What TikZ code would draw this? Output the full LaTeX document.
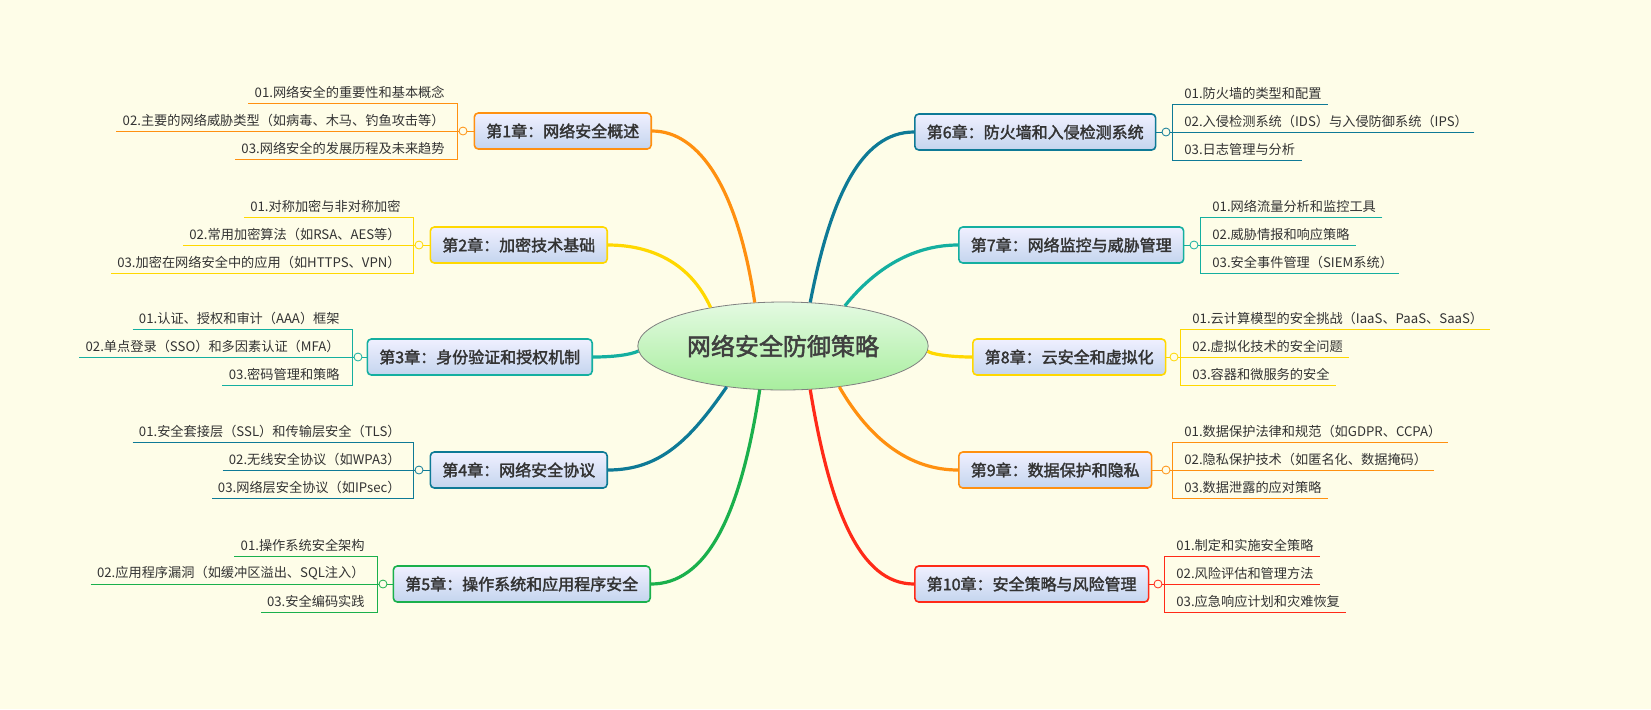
\documentclass[tikz,border=0pt]{standalone}
\usepackage{fontspec}
\setmainfont{Noto Sans CJK SC}[AutoFakeBold=2]
\usetikzlibrary{shapes.geometric}
\definecolor{bg}{HTML}{FEFDE8}
\definecolor{cOrange}{HTML}{FF9010}
\definecolor{cYellow}{HTML}{FFD800}
\definecolor{cTeal}{HTML}{14AFA0}
\definecolor{cBlue}{HTML}{0E7A96}
\definecolor{cGreen}{HTML}{1AB04C}
\definecolor{cRed}{HTML}{FF2A18}
\tikzset{
  chap/.style={draw=#1,thick,rounded corners=2pt,top color=blue!6,bottom color={rgb,255:red,196;green,213;blue,238},
    font=\bfseries\fontsize{8}{9}\selectfont,text=black!80,inner xsep=6pt,minimum height=18pt},
  item/.style={font=\fontsize{6.6}{8}\selectfont,text=black!80,inner xsep=3pt,inner ysep=2pt},
  knob/.style={circle,draw=#1,fill=bg,inner sep=0pt,minimum size=4pt},
  branch/.style={line width=1.6pt,#1}
}
\begin{document}
\begin{tikzpicture}[x=0.5pt,y=-0.5pt]
\fill[bg] (0,0) rectangle (1651,709);
\useasboundingbox (0,0) rectangle (1651,709);
\node[ellipse,draw=gray,minimum width=130pt,minimum height=44pt,top color={rgb,255:red,228;green,250;blue,226},bottom color={rgb,255:red,168;green,238;blue,158},
  font=\bfseries\fontsize{12}{14}\selectfont,text=black!75] (root) at (783,346) {网络安全防御策略};
% left chapters
\node[chap=cOrange,anchor=east] (ch1) at (652,131) {第1章：网络安全概述};
\node[chap=cYellow,anchor=east] (ch2) at (608,245) {第2章：加密技术基础};
\node[chap=cTeal,anchor=east] (ch3) at (593,357) {第3章：身份验证和授权机制};
\node[chap=cBlue,anchor=east] (ch4) at (608,470) {第4章：网络安全协议};
\node[chap=cGreen,anchor=east] (ch5) at (651,584) {第5章：操作系统和应用程序安全};
% right chapters
\node[chap=cBlue,anchor=west] (ch6) at (914,132) {第6章：防火墙和入侵检测系统};
\node[chap=cTeal,anchor=west] (ch7) at (958,245) {第7章：网络监控与威胁管理};
\node[chap=cYellow,anchor=west] (ch8) at (972,357) {第8章：云安全和虚拟化};
\node[chap=cOrange,anchor=west] (ch9) at (958,470) {第9章：数据保护和隐私};
\node[chap=cRed,anchor=west] (ch10) at (914,584) {第10章：安全策略与风险管理};
% branches
\draw[branch=cOrange] (root.123) .. controls (738,190) and (700,131) .. (ch1.east);
\draw[branch=cYellow] (root.152) .. controls (690,262) and (650,245) .. (ch2.east);
\draw[branch=cTeal] (root.182) .. controls (630,355) and (612,357) .. (ch3.east);
\draw[branch=cBlue] (root.216) .. controls (690,440) and (660,470) .. (ch4.east);
\draw[branch=cGreen] (root.242) .. controls (740,520) and (705,584) .. (ch5.east);
\draw[branch=cBlue] (root.58) .. controls (830,200) and (860,132) .. (ch6.west);
\draw[branch=cTeal] (root.33) .. controls (880,262) and (920,245) .. (ch7.west);
\draw[branch=cYellow] (root.358) .. controls (930,354) and (950,357) .. (ch8.west);
\draw[branch=cOrange] (root.324) .. controls (870,440) and (910,470) .. (ch9.west);
\draw[branch=cRed] (root.302) .. controls (830,510) and (860,584) .. (ch10.west);
% left sub-items: chapter/bracket x/colour/texts
\foreach \c/\bx/\cy/\col/\ta/\tb/\tc in {
  1/457/131/cOrange/01.网络安全的重要性和基本概念/02.主要的网络威胁类型（如病毒、木马、钓鱼攻击等）/03.网络安全的发展历程及未来趋势,
  2/413/245/cYellow/01.对称加密与非对称加密/02.常用加密算法（如RSA、AES等）/03.加密在网络安全中的应用（如HTTPS、VPN）,
  3/352/357/cTeal/01.认证、授权和审计（AAA）框架/02.单点登录（SSO）和多因素认证（MFA）/03.密码管理和策略,
  4/413/470/cBlue/01.安全套接层（SSL）和传输层安全（TLS）/02.无线安全协议（如WPA3）/03.网络层安全协议（如IPsec）,
  5/377/584/cGreen/01.操作系统安全架构/02.应用程序漏洞（如缓冲区溢出、SQL注入）/03.安全编码实践}{
  \coordinate (br\c) at (\bx,\cy);
  \node[item,anchor=south east] (i\c a) at (\bx-6,\cy-28) {\ta};
  \node[item,anchor=south east] (i\c b) at (\bx-6,\cy) {\tb};
  \node[item,anchor=south east] (i\c c) at (\bx-6,\cy+28) {\tc};
  \node[knob=\col] (k\c) at (\bx+6,\cy) {};
  \draw[\col,thin] (i\c a.south west) -- (i\c a.south west -| br\c) -- (i\c c.south west -| br\c) -- (i\c c.south west);
  \draw[\col,thin] (i\c b.south west) -- (k\c.west) (k\c.east) -- (ch\c.west);
}
% right sub-items
\foreach \c/\bx/\cy/\col/\ta/\tb/\tc in {
  6/1172/132/cBlue/01.防火墙的类型和配置/02.入侵检测系统（IDS）与入侵防御系统（IPS）/03.日志管理与分析,
  7/1200/245/cTeal/01.网络流量分析和监控工具/02.威胁情报和响应策略/03.安全事件管理（SIEM系统）,
  8/1180/357/cYellow/01.云计算模型的安全挑战（IaaS、PaaS、SaaS）/02.虚拟化技术的安全问题/03.容器和微服务的安全,
  9/1172/470/cOrange/01.数据保护法律和规范（如GDPR、CCPA）/02.隐私保护技术（如匿名化、数据掩码）/03.数据泄露的应对策略,
  10/1164/584/cRed/01.制定和实施安全策略/02.风险评估和管理方法/03.应急响应计划和灾难恢复}{
  \coordinate (br\c) at (\bx,\cy);
  \node[item,anchor=south west] (i\c a) at (\bx+6,\cy-28) {\ta};
  \node[item,anchor=south west] (i\c b) at (\bx+6,\cy) {\tb};
  \node[item,anchor=south west] (i\c c) at (\bx+6,\cy+28) {\tc};
  \node[knob=\col] (k\c) at (\bx-6,\cy) {};
  \draw[\col,thin] (i\c a.south east) -- (i\c a.south east -| br\c) -- (i\c c.south east -| br\c) -- (i\c c.south east);
  \draw[\col,thin] (i\c b.south east) -- (k\c.east) (k\c.west) -- (ch\c.east);
}
\end{tikzpicture}
\end{document}
